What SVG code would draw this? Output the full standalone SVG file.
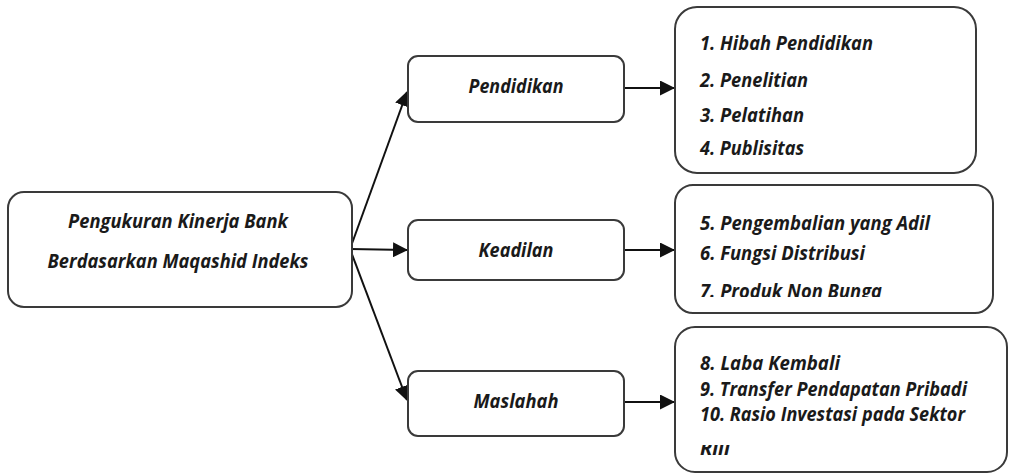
<svg xmlns="http://www.w3.org/2000/svg" width="1011" height="474" viewBox="0 0 1011 474">
<style>
.box{fill:#fff;stroke:#3a3a3a;stroke-width:2}
.t{font-family:"Open Sans","Noto Sans",sans-serif;font-style:italic;font-weight:bold;font-size:19px;fill:#1a1a1a}
.c{text-anchor:middle}
.ln{stroke:#111;stroke-width:2;fill:none}
</style>
<defs>
<marker id="ahb" markerWidth="15" markerHeight="15" refX="14" refY="7.5" orient="auto" markerUnits="userSpaceOnUse" viewBox="0 0 15 15">
<path d="M0,0 L15,7.5 L0,15 Z" fill="#111"/>
</marker>
<clipPath id="clip2"><rect x="676" y="186" width="316" height="111"/></clipPath>
<clipPath id="clip3"><rect x="676" y="445" width="330" height="10"/></clipPath>
</defs>
<g id="connectors">
<line class="ln" x1="350" y1="249" x2="407" y2="92" marker-end="url(#ahb)"/>
<line class="ln" x1="350" y1="249" x2="407" y2="250" marker-end="url(#ahb)"/>
<line class="ln" x1="350" y1="249" x2="407" y2="400" marker-end="url(#ahb)"/>
<line class="ln" x1="624" y1="88" x2="674" y2="88" marker-end="url(#ahb)"/>
<line class="ln" x1="624" y1="250" x2="674" y2="250" marker-end="url(#ahb)"/>
<line class="ln" x1="624" y1="402" x2="674" y2="402" marker-end="url(#ahb)"/>
</g>
<g id="main">
<rect class="box" x="8" y="192" width="344" height="115" rx="16"/>
<text class="t c" x="178" y="228" textLength="220" lengthAdjust="spacingAndGlyphs">Pengukuran Kinerja Bank</text>
<text class="t c" x="178" y="268" textLength="261" lengthAdjust="spacingAndGlyphs">Berdasarkan Maqashid Indeks</text>
</g>
<g id="pendidikan">
<rect class="box" x="408" y="56" width="216" height="66" rx="10"/>
<text class="t c" x="516" y="93" textLength="95" lengthAdjust="spacingAndGlyphs">Pendidikan</text>
</g>
<g id="keadilan">
<rect class="box" x="408" y="220" width="216" height="60" rx="10"/>
<text class="t c" x="516" y="257" textLength="75" lengthAdjust="spacingAndGlyphs">Keadilan</text>
</g>
<g id="maslahah">
<rect class="box" x="408" y="371" width="216" height="65" rx="10"/>
<text class="t c" x="516" y="408" textLength="85" lengthAdjust="spacingAndGlyphs">Maslahah</text>
</g>
<g id="list-pendidikan">
<rect class="box" x="675" y="7" width="301" height="166" rx="22"/>
<text class="t" x="700" y="50" textLength="173" lengthAdjust="spacingAndGlyphs">1. Hibah Pendidikan</text>
<text class="t" x="700" y="87" textLength="108" lengthAdjust="spacingAndGlyphs">2. Penelitian</text>
<text class="t" x="700" y="122" textLength="104" lengthAdjust="spacingAndGlyphs">3. Pelatihan</text>
<text class="t" x="700" y="155" textLength="104" lengthAdjust="spacingAndGlyphs">4. Publisitas</text>
</g>
<g id="list-keadilan">
<rect class="box" x="675" y="185" width="318" height="128" rx="18"/>
<text class="t" x="700" y="230" textLength="230" lengthAdjust="spacingAndGlyphs">5. Pengembalian yang Adil</text>
<text class="t" x="700" y="260" textLength="165" lengthAdjust="spacingAndGlyphs">6. Fungsi Distribusi</text>
<text class="t" x="700" y="298" textLength="182" lengthAdjust="spacingAndGlyphs" clip-path="url(#clip2)">7. Produk Non Bunga</text>
</g>
<g id="list-maslahah">
<rect class="box" x="675" y="327" width="332" height="145" rx="20"/>
<text class="t" x="700" y="370" textLength="140" lengthAdjust="spacingAndGlyphs">8. Laba Kembali</text>
<text class="t" x="700" y="396" textLength="267" lengthAdjust="spacingAndGlyphs">9. Transfer Pendapatan Pribadi</text>
<text class="t" x="700" y="421" textLength="265" lengthAdjust="spacingAndGlyphs">10. Rasio Investasi pada Sektor</text>
<text class="t" x="700" y="455" textLength="30" lengthAdjust="spacingAndGlyphs" clip-path="url(#clip3)">Riil</text>
</g>
</svg>
